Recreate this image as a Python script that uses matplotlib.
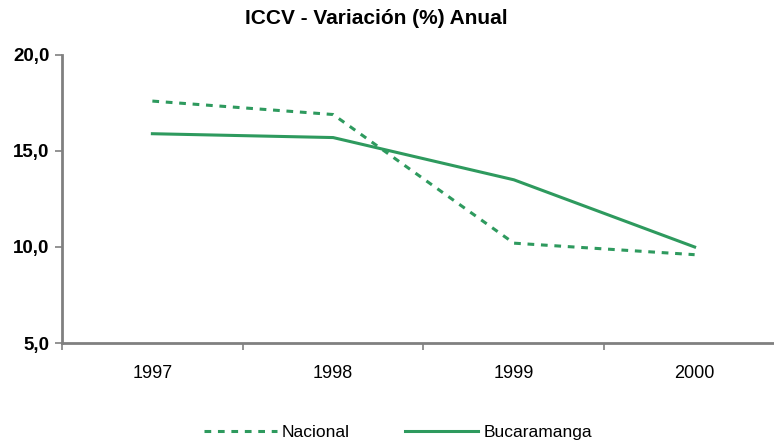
import numpy as np
import matplotlib.pyplot as plt

years = ["1997", "1998", "1999", "2000"]
nacional = [17.6, 16.9, 10.2, 9.6]
bucaramanga = [15.9, 15.7, 13.5, 10.0]
yticks = [5.0, 10.0, 15.0, 20.0]

green = "#2e9a5e"
plt.rcParams['font.family'] = ['Liberation Sans', 'DejaVu Sans']

W, H = 774, 448
fig = plt.figure(figsize=(W / 100, H / 100), dpi=100)
# axes box in pixels: x 62..785 (runs past the right edge), y 55..343
ax = fig.add_axes([62 / W, 1 - 343 / H, (785 - 62) / W, (343 - 55) / H])

x = np.arange(len(years))
ax.plot(x, nacional, color=green, lw=2.2, ls=(0, (2.2, 2.2)), label="Nacional")
ax.plot(x, bucaramanga, color=green, lw=2.2, label="Bucaramanga")

ax.set_xlim(-0.5, len(years) - 0.5)
ax.set_ylim(5, 20)
ax.set_yticks(yticks)
ax.set_yticklabels([f"{v:.1f}".replace(".", ",") for v in yticks],
                   fontsize=13.5, fontweight="bold")
ax.set_xticks(np.arange(len(years) + 1) - 0.5)
ax.set_xticklabels([])
ax.set_xticks(x, minor=True)
ax.set_xticklabels(years, minor=True, fontsize=13)
ax.tick_params(axis="x", which="minor", length=0, pad=16)
ax.tick_params(axis="x", which="major", length=5, color="#808080", width=1.2)
ax.tick_params(axis="y", length=5, color="#808080", width=1.2, pad=4)

for s in ["top", "right"]:
    ax.spines[s].set_visible(False)
for s in ["left", "bottom"]:
    ax.spines[s].set_color("#808080")
    ax.spines[s].set_linewidth(2)

fig.text(376 / W, 1 - 19 / H, "ICCV - Variación (%) Anual", ha="center", va="center",
         fontsize=15, fontweight="bold")

fig.legend(loc="center", bbox_to_anchor=(398 / W, 1 - 432 / H), ncol=2, frameon=False,
           fontsize=12.5, handlelength=4.2, handletextpad=0.3, columnspacing=3.2)

fig.savefig("out.png", dpi=100)
